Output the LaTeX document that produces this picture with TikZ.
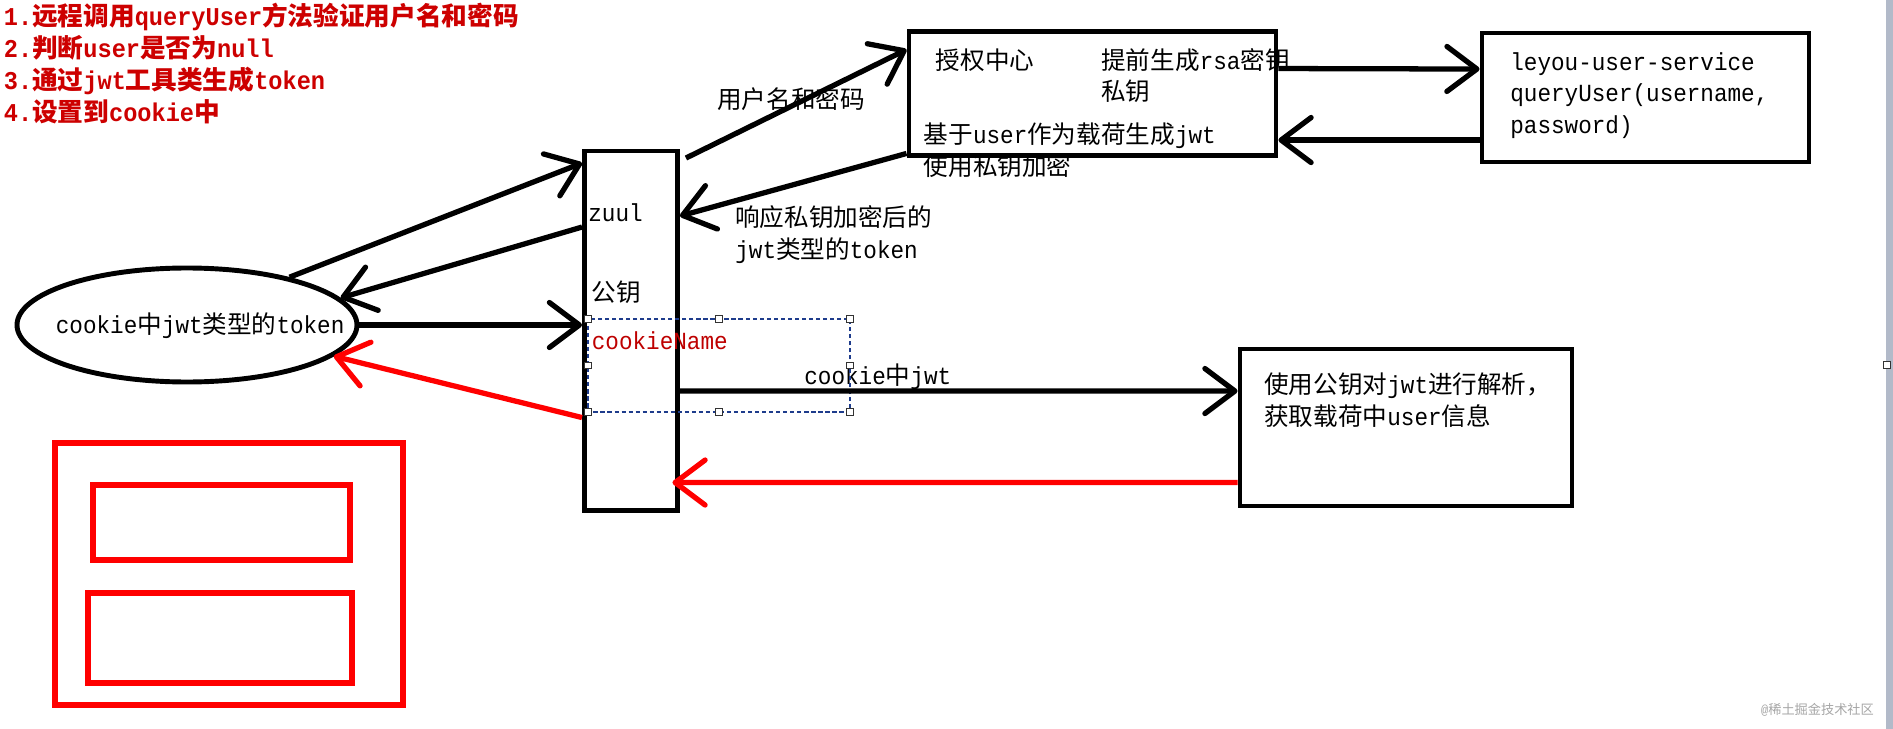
\documentclass[tikz,border=0pt]{standalone}
\usepackage{fontspec}
\setmainfont{Liberation Mono}[FakeStretch=0.92]
\newfontfamily\cjk{Noto Sans CJK SC}
\usetikzlibrary{arrows.meta,shapes.geometric}
\usepackage{xcolor}
\definecolor{stepred}{RGB}{205,0,0}
\definecolor{namered}{RGB}{190,0,0}
\definecolor{selblue}{RGB}{30,60,140}
\definecolor{edgegray}{RGB}{178,186,201}
% Chinese characters are set in the CJK face
\XeTeXinterchartokenstate=1
\newXeTeXintercharclass\cjkclass
\count255="3000
\loop
  \XeTeXcharclass\count255=\cjkclass
  \ifnum\count255<"9FFF \advance\count255 by 1 \repeat
\XeTeXcharclass"FF0C=\cjkclass
\XeTeXinterchartoks 0 \cjkclass={\cjk}
\XeTeXinterchartoks 4095 \cjkclass={\cjk}
\XeTeXinterchartoks \cjkclass 0={\rmfamily}
\XeTeXinterchartoks \cjkclass 4095={\rmfamily}

\begin{document}
\begin{tikzpicture}[
   >={Straight Barb[length=6mm,width=9mm,round]},
   every node/.style={font=\fontsize{14pt}{18pt}\selectfont},
   box/.style={draw,line width=2.8pt,inner sep=0pt},
   link/.style={->,line width=3pt},
   backlink/.style={link,red},
   note/.style={anchor=west,align=left,inner sep=0pt},
   selbox/.style={draw=selblue,line width=0.9pt,dash pattern=on 2.4pt off 1.6pt},
   handle/.style={draw=black!80,fill=white,line width=0.6pt,minimum size=1.3mm,inner sep=0pt},
   redframe/.style={draw=red,line width=3.2pt}]
  % page and canvas edge
  \fill[white] (0,0) rectangle (37.86,-14.58);
  \useasboundingbox (0,0) rectangle (37.86,-14.58);
  \fill[edgegray] (37.72,0) rectangle (37.86,-14.58);
  % steps
  \node[note,text=stepred,font=\fontsize{14.6pt}{18.2pt}\selectfont\bfseries] (steps) at (0.07,-1.265)
     {1.远程调用queryUser方法验证用户名和密码\\2.判断user是否为null\\3.通过jwt工具类生成token\\4.设置到cookie中};
  % services
  \node[box,minimum width=1.86cm,minimum height=7.19cm] (zuul) at (12.62,-6.615) {};
  \node[box,minimum width=7.34cm,minimum height=2.48cm] (auth) at (21.85,-1.87) {};
  \node[box,minimum width=6.54cm,minimum height=2.58cm] (user) at (32.91,-1.95) {};
  \node[box,minimum width=6.64cm,minimum height=3.14cm] (parse) at (28.12,-8.55) {};
  \node[box,ellipse,minimum width=6.8cm,minimum height=2.28cm] (ell) at (3.74,-6.5) {};
  % texts
  \node[note] (zuultxt) at (11.76,-4.25) {zuul};
  \node[note] (pubkey) at (11.83,-5.84) {公钥};
  \node[note] (authtxt) at (18.71,-1.21) {授权中心};
  \node[note] (rsatxt) at (22.02,-1.51) {提前生成rsa密钥\\私钥};
  \node[note] (jwttxt) at (18.47,-3.005) {基于user作为载荷生成jwt\\使用私钥加密};
  \node[note] (usertxt) at (30.20,-1.91) {leyou-user-service\\queryUser(username,\\password)};
  \node[note] (parsetxt) at (25.28,-8.0) {使用公钥对jwt进行解析，\\获取载荷中user信息};
  \node[note] (elltxt) at (1.11,-6.52) {cookie中jwt类型的token};
  \node[note,text=namered] (cname) at (11.83,-6.81) {cookieName};
  \node[note] (pwdtxt) at (14.34,-1.98) {用户名和密码};
  \node[note] (resptxt) at (14.70,-4.695) {响应私钥加密后的\\jwt类型的token};
  \node[note] (cjwt) at (16.08,-7.53) {cookie中jwt};
  % selection frame round cookieName
  \draw[selbox] (11.76,-6.38) rectangle (17.00,-8.24);
  \foreach \hx/\hy [count=\n] in {11.76/-6.38,14.38/-6.38,17.00/-6.38,11.76/-7.31,
      17.00/-7.31,11.76/-8.24,14.38/-8.24,17.00/-8.24}
    \node[handle] (h\n) at (\hx,\hy) {};
  % requests and replies
  \draw[link] (ell.25) -- ([yshift=-0.29cm]zuul.north west);
  \draw[link] ([yshift=-1.57cm]zuul.north west) -- (ell.10);
  \draw[link] (ell.east) -- (ell.east -| zuul.west);
  \draw[backlink] ([yshift=-5.38cm]zuul.north west) -- (ell.-12);
  \draw[link] ([xshift=0.12cm,yshift=-0.19cm]zuul.north east) -- ([yshift=-0.41cm]auth.north west);
  \draw[link] ([yshift=0.09cm]auth.south west) -- ([yshift=-1.35cm]zuul.north east);
  \draw[link] ([yshift=-0.79cm]auth.north east) -- ([yshift=-0.77cm]user.north west);
  \draw[link] ([yshift=-2.19cm]user.north west) -- ([yshift=-2.22cm]auth.north east);
  \draw[link] ([yshift=-4.85cm]zuul.north east) -- ([yshift=-0.89cm]parse.north west);
  \draw[backlink] ([yshift=-2.72cm]parse.north west) -- ([xshift=-0.15cm,yshift=-6.68cm]zuul.north east);
  % page layout sketch
  \draw[redframe] (1.10,-8.86) rectangle (8.06,-14.10);
  \draw[redframe] (1.86,-9.70) rectangle (7.00,-11.20);
  \draw[redframe] (1.76,-11.86) rectangle (7.04,-13.66);
  % watermark and canvas handle
  \node[anchor=east,text=black!35,font=\fontsize{7.5pt}{9pt}\selectfont] (mark) at (37.6,-14.2) {@稀土掘金技术社区};
  \node[handle] (edgeh) at (37.74,-7.30) {};
\end{tikzpicture}
\end{document}
